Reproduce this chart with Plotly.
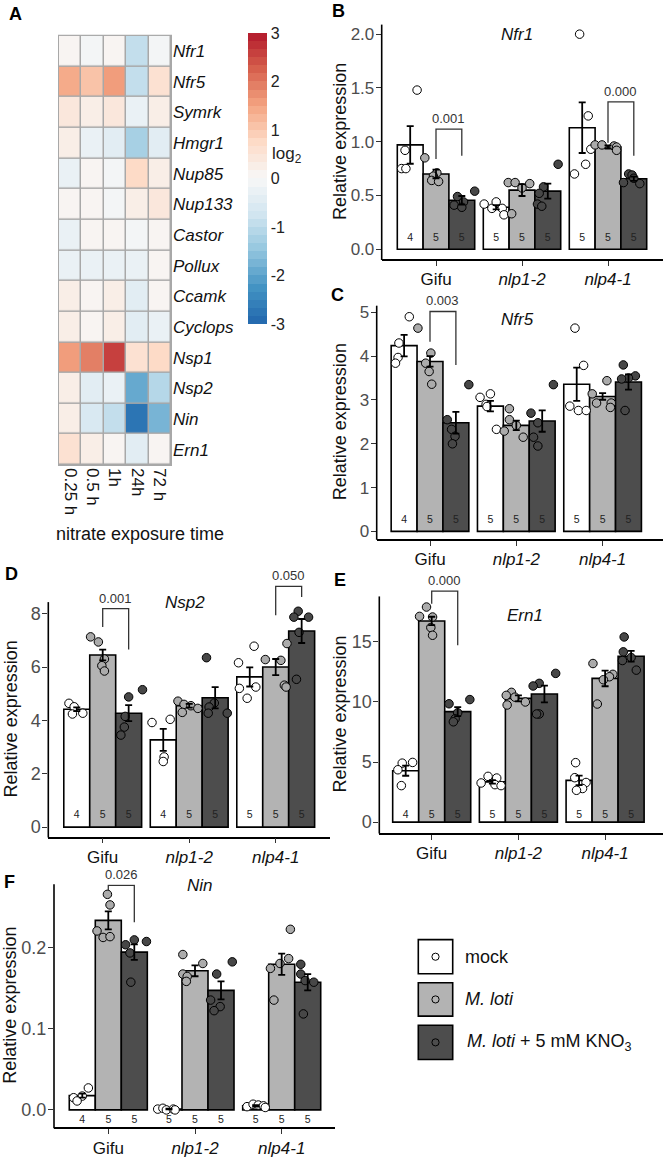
import plotly.graph_objects as go
from plotly.colors import sample_colorscale

W, H = 664, 1160
FONT = "Liberation Sans, Arial, Helvetica, sans-serif"

# ---------------- Panel A data ----------------
genes = ["Nfr1", "Nfr5", "Symrk", "Hmgr1", "Nup85", "Nup133", "Castor",
         "Pollux", "Ccamk", "Cyclops", "Nsp1", "Nsp2", "Nin", "Ern1"]
times = ["0.25 h", "0.5 h", "1h", "24h", "72 h"]
log2fc = [
    [0.0, -0.15, 0.0, -1.0, -0.15],     # Nfr1
    [1.35, 1.15, 1.55, -0.9, 0.55],     # Nfr5
    [0.45, 0.3, 0.45, -0.25, 0.2],      # Symrk
    [0.3, -0.3, -0.5, -1.2, -0.35],     # Hmgr1
    [-0.2, 0.0, -0.15, 0.7, 0.2],       # Nup85
    [0.05, 0.0, -0.15, 0.25, 0.4],      # Nup133
    [-0.2, 0.0, 0.0, -0.15, 0.0],       # Castor
    [-0.25, -0.25, -0.25, -0.2, 0.0],   # Pollux
    [0.2, 0.0, 0.2, -0.4, 0.0],         # Ccamk
    [0.2, 0.0, 0.2, -0.5, -0.3],        # Cyclops
    [1.6, 1.9, 2.6, 0.65, 0.75],        # Nsp1
    [0.2, -0.35, -0.2, -2.0, -1.1],     # Nsp2
    [0.2, -0.6, -1.0, -2.8, -1.7],      # Nin
    [0.6, 0.2, 0.0, -0.5, 0.0],         # Ern1
]
cbar_ticks = [3, 2, 1, 0, -1, -2, -3]

# ---------------- Bar panels data ----------------
genotypes = ["Gifu", "nlp1-2", "nlp4-1"]
genotype_ticktext = ["Gifu", "<i>nlp1-2</i>", "<i>nlp4-1</i>"]
treatments = ["mock", "M. loti", "M. loti + 5 mM KNO3"]

# Nfr1 (B)
nfr1_mean = [[0.97, 0.70, 0.455], [0.39, 0.55, 0.54], [1.13, 0.95, 0.655]]
nfr1_se = [[0.175, 0.04, 0.04], [0.02, 0.055, 0.07], [0.235, 0.015, 0.02]]
nfr1_pts = [
    [[1.48, 0.92, 0.75, 0.75], [0.85, 0.71, 0.68, 0.64, 0.63], [0.54, 0.49, 0.44, 0.41, 0.39]],
    [[0.42, 0.38, 0.44, 0.38, 0.32], [0.62, 0.62, 0.57, 0.61, 0.33], [0.79, 0.58, 0.52, 0.42, 0.40]],
    [[2.00, 1.24, 0.93, 0.79, 0.70], [0.97, 0.97, 0.96, 0.95, 0.92], [0.70, 0.69, 0.66, 0.62, 0.61]],
]
nfr1_n = [[4, 5, 5], [5, 5, 5], [5, 5, 5]]

# Nfr5 (C)
nfr5_mean = [[4.24, 3.88, 2.48], [2.86, 2.42, 2.52], [3.36, 3.08, 3.41]]
nfr5_se = [[0.245, 0.12, 0.25], [0.12, 0.11, 0.245], [0.38, 0.075, 0.175]]
nfr5_pts = [
    [[4.90, 4.30, 3.97, 3.84], [4.64, 4.07, 3.84, 3.65, 3.36], [3.35, 2.55, 2.33, 2.17, 2.00]],
    [[3.14, 3.06, 2.90, 2.85, 2.33], [2.80, 2.55, 2.42, 2.29, 2.15], [3.35, 2.70, 2.48, 2.15, 1.95]],
    [[4.64, 3.79, 2.86, 2.76, 2.76], [3.44, 3.14, 2.93, 2.93, 2.83], [3.80, 3.55, 3.50, 3.48, 2.76]],
]
nfr5_n = [[4, 5, 5], [5, 5, 5], [5, 5, 5]]

# Nsp2 (D)
nsp2_mean = [[4.42, 6.45, 4.27], [3.27, 4.55, 4.85], [5.63, 6.0, 7.35]]
nsp2_se = [[0.07, 0.2, 0.3], [0.41, 0.07, 0.4], [0.36, 0.3, 0.45]]
nsp2_pts = [
    [[4.64, 4.51, 4.24, 4.27], [7.13, 6.94, 6.30, 6.05, 5.85], [5.15, 4.88, 4.15, 3.75, 3.45]],
    [[3.92, 4.04, 2.63, 2.46], [4.72, 4.60, 4.55, 4.45, 4.30], [6.35, 4.65, 4.50, 4.27, 4.27]],
    [[6.78, 6.16, 5.20, 5.25, 4.83], [6.88, 6.28, 6.25, 5.32, 5.25], [8.09, 7.87, 7.87, 7.30, 5.54]],
]
nsp2_n = [[4, 5, 5], [4, 5, 5], [5, 5, 5]]

# Ern1 (E)
ern1_mean = [[4.28, 16.74, 9.2], [3.35, 10.3, 10.66], [3.48, 11.96, 13.81]]
ern1_se = [[0.42, 0.35, 0.37], [0.15, 0.25, 0.7], [0.4, 0.65, 0.45]]
ern1_pts = [
    [[4.97, 4.91, 4.36, 3.04], [17.9, 17.12, 17.07, 16.19, 15.55], [10.2, 9.85, 9.1, 8.6, 8.35]],
    [[3.81, 3.26, 3.67, 3.12, 3.04], [10.8, 10.55, 10.4, 10.0, 9.75], [12.38, 11.55, 11.33, 9.0, 9.0]],
    [[4.95, 3.7, 3.3, 2.8, 2.65], [13.2, 12.3, 12.1, 11.85, 9.83], [15.41, 14.17, 13.7, 13.45, 12.65]],
]
ern1_n = [[4, 5, 5], [5, 5, 5], [5, 5, 5]]

# Nin (F)
nin_mean = [[0.0175, 0.233, 0.194], [0.001, 0.171, 0.147], [0.005, 0.179, 0.157]]
nin_se = [[0.0025, 0.011, 0.0096], [0.0004, 0.0067, 0.011], [0.0008, 0.013, 0.01]]
nin_pts = [
    [[0.027, 0.017, 0.015, 0.011], [0.265, 0.252, 0.220, 0.212, 0.213], [0.207, 0.209, 0.203, 0.193, 0.157]],
    [[0.001, 0.002, 0.0, 0.001, 0.0], [0.191, 0.180, 0.167, 0.164, 0.158], [0.182, 0.167, 0.135, 0.127, 0.122]],
    [[0.004, 0.007, 0.006, 0.005, 0.003], [0.222, 0.186, 0.180, 0.174, 0.135], [0.179, 0.167, 0.159, 0.157, 0.118]],
]
nin_n = [[4, 5, 5], [5, 5, 5], [5, 5, 5]]

# p-value labels for brackets
p_nfr1 = ["0.001", "0.000"]
p_nfr5 = ["0.003"]
p_nsp2 = ["0.001", "0.050"]
p_ern1 = ["0.000"]
p_nin = ["0.026"]

# ---------------- styling (jitter offsets in category units) ----------------
jit_B = [
    [[0.08, -0.06, -0.10, -0.05], [-0.13, 0.01, -0.03, -0.05, 0.03], [0.15, -0.05, 0.02, -0.09, 0.0]],
    [[-0.14, -0.05, 0.0, 0.07, 0.09], [-0.16, -0.08, 0.0, 0.09, -0.12], [0.12, -0.05, -0.1, -0.12, -0.07]],
    [[-0.03, 0.07, 0.1, 0.04, -0.09], [-0.15, -0.07, 0.07, 0.1, 0.1], [-0.06, -0.02, 0.0, -0.12, 0.07]],
]
jit_C = [
    [[0.06, -0.06, -0.07, -0.10], [-0.14, 0.01, -0.05, -0.01, 0.02], [0.15, -0.1, -0.05, -0.01, -0.04]],
    [[0.0, -0.12, -0.05, -0.04, 0.07], [-0.08, -0.08, 0.0, -0.14, 0.08], [0.13, -0.13, -0.05, -0.1, -0.05]],
    [[-0.02, 0.08, -0.08, 0.02, 0.11], [0.05, -0.12, -0.07, 0.1, 0.09], [-0.06, 0.08, 0.0, -0.08, -0.04]],
]
jit_D = [
    [[-0.09, -0.03, -0.05, 0.07], [-0.14, -0.05, 0.02, -0.01, 0.02], [0.16, 0.0, -0.04, -0.05, -0.09]],
    [[-0.13, 0.08, 0.01, 0.0], [-0.13, -0.06, 0.02, 0.1, -0.08], [-0.1, -0.01, -0.07, 0.14, -0.08]],
    [[0.05, -0.13, -0.12, 0.07, -0.03], [0.13, -0.12, 0.06, 0.1, 0.12], [-0.04, -0.09, 0.08, -0.03, -0.06]],
]
jit_E = [
    [[0.08, -0.04, -0.09, -0.05], [-0.06, -0.14, 0.01, -0.01, 0.01], [0.14, -0.1, 0.0, -0.03, -0.05]],
    [[-0.05, -0.13, 0.05, 0.03, 0.1], [-0.08, -0.14, -0.04, 0.08, -0.13], [0.13, -0.06, -0.13, -0.06, -0.09]],
    [[-0.04, -0.05, 0.08, 0.04, -0.03], [-0.14, 0.09, 0.05, -0.02, -0.09], [-0.08, -0.09, 0.0, -0.1, 0.06]],
]
jit_F = [
    [[0.07, 0.0, -0.1, -0.06], [-0.01, 0.02, -0.13, -0.06, 0.02], [0.14, 0.0, -0.1, -0.05, -0.04]],
    [[-0.13, -0.07, -0.03, 0.05, 0.07], [-0.14, 0.09, -0.14, -0.09, -0.1], [0.13, -0.05, -0.12, -0.01, -0.08]],
    [[-0.1, -0.03, 0.03, 0.09, 0.11], [0.1, 0.08, -0.02, -0.13, -0.09], [-0.08, -0.08, -0.03, 0.07, -0.05]],
]

bar_fill = ["#FFFFFF", "#B3B3B3", "#4D4D4D"]
pt_fill = ["#FFFFFF", "#ABABAB", "#474747"]
BW = 0.3


def pxp(x, y):
    return x / W, 1 - y / H


fig = go.Figure()
shapes = []
annotations = []

# ---------------- Heatmap (A) ----------------
base = [[0, "#2166AC"], [0.125, "#4393C3"], [0.25, "#92C5DE"], [0.375, "#D1E5F0"],
        [0.5, "#F7F7F7"], [0.625, "#FDDBC7"], [0.75, "#F4A582"], [0.875, "#D6604D"], [1, "#B2182B"]]
nb = 36
cs = []
for i in range(nb):
    c = sample_colorscale(base, [(i + 0.5) / nb])[0]
    cs.append([i / nb, c])
    cs.append([(i + 1) / nb, c])

hx0, hx1, hy0, hy1 = 59, 171, 33, 464
fig.add_trace(go.Heatmap(
    z=log2fc, x=times, y=genes, zmin=-3, zmax=3, colorscale=cs,
    xgap=1.5, ygap=1.5, hoverinfo="skip", xaxis="x", yaxis="y",
    colorbar=dict(x=248 / W, xanchor="left", y=1 - 176.5 / H, yanchor="middle",
                  len=291, lenmode="pixels", thickness=19, thicknessmode="pixels",
                  xpad=0, ypad=0, outlinewidth=0, ticks="",
                  tickvals=cbar_ticks, ticktext=[str(v) for v in cbar_ticks],
                  tickfont=dict(size=16, color="#222", family=FONT)),
))
shapes.append(dict(type="rect", xref="paper", yref="paper",
                   x0=(hx0 - 1) / W, x1=(hx1 + 1) / W, y0=1 - (hy1 + 1) / H, y1=1 - (hy0 - 1) / H,
                   fillcolor="#A8A8A8", line=dict(width=0), layer="below"))
layout_axes = dict(
    xaxis=dict(domain=[hx0 / W, hx1 / W], anchor="y", tickangle=90, ticks="", showline=False,
               showgrid=False, zeroline=False, tickfont=dict(size=17, color="#111", family=FONT),
               ticklabelstandoff=2),
    yaxis=dict(domain=[1 - hy1 / H, 1 - hy0 / H], anchor="x", side="right", autorange="reversed",
               tickvals=genes, ticktext=[f"<i>{g}</i>" for g in genes], ticks="", showline=False,
               showgrid=False, zeroline=False, tickfont=dict(size=17, color="#111", family=FONT),
               ticklabelstandoff=1),
)
annotations.append(dict(x=270 / W, y=1 - 153 / H, xref="paper", yref="paper", xanchor="left",
                        yanchor="middle", showarrow=False, text="log<sub>2</sub>",
                        font=dict(size=17, color="#222", family=FONT)))
annotations.append(dict(x=140 / W, y=1 - 533 / H, xref="paper", yref="paper", xanchor="center",
                        yanchor="middle", showarrow=False, text="nitrate exposure time",
                        font=dict(size=18, color="#111", family=FONT)))

# ---------------- Bar panels ----------------
panels = [
    dict(letter="B", ax=2, title="Nfr1", mean=nfr1_mean, se=nfr1_se, pts=nfr1_pts, n=nfr1_n, jit=jit_B,
         xl=381.7, xr=663, t1=436, sp=86, y0=247.3, ppu=108, ybot=257.3, ytop=21.7, hi=2.093,
         yt=[0, 0.5, 1.0, 1.5, 2.0], ytt=["0.0", "0.5", "1.0", "1.5", "2.0"], yfs=17,
         nlab=10.7, title_px=(517, 32), ytitle_px=(340, 139.5), letter_px=(338, 8),
         br=[(0, 1.117, 0.84, 0.87, p_nfr1[0]), (2, 1.37, 0.99, 0.87, p_nfr1[1])]),
    dict(letter="C", ax=3, title="Nfr5", mean=nfr5_mean, se=nfr5_se, pts=nfr5_pts, n=nfr5_n, jit=jit_C,
         xl=376.7, xr=663, t1=430, sp=86.3, y0=530.7, ppu=44, ybot=538.3, ytop=304, hi=5.13,
         yt=[0, 1, 2, 3, 4, 5], ytt=["0", "1", "2", "3", "4", "5"], yfs=17,
         nlab=11.3, title_px=(517.7, 318.3), ytitle_px=(340, 421), letter_px=(337, 293),
         br=[(0, 5.02, 4.33, 3.80, p_nfr5[0])]),
    dict(letter="D", ax=4, title="Nsp2", mean=nsp2_mean, se=nsp2_se, pts=nsp2_pts, n=nsp2_n, jit=jit_D,
         xl=48.3, xr=330, t1=102.7, sp=86.5, y0=827.7, ppu=26.8, ybot=837.3, ytop=601.7, hi=9.15,
         yt=[0, 2, 4, 6, 8], ytt=["0", "2", "4", "6", "8"], yfs=18,
         nlab=11.7, title_px=(185, 601.7), ytitle_px=(11, 719.5), letter_px=(11, 573),
         br=[(0, 8.19, 7.5, 6.66, p_nsp2[0]), (2, 9.02, 7.94, 8.62, p_nsp2[1])]),
    dict(letter="E", ax=5, title="Ern1", mean=ern1_mean, se=ern1_se, pts=ern1_pts, n=ern1_n, jit=jit_E,
         xl=379.3, xr=663, t1=431.7, sp=86.7, y0=822.7, ppu=12.07, ybot=833.3, ytop=596, hi=19.35,
         yt=[0, 5, 10, 15], ytt=["0", "5", "10", "15"], yfs=18,
         nlab=7, title_px=(525, 615), ytitle_px=(340, 714.7), letter_px=(340, 579),
         br=[(0, 19.22, 18.18, 14.72, p_ern1[0])]),
    dict(letter="F", ax=6, title="Nin", mean=nin_mean, se=nin_se, pts=nin_pts, n=nin_n, jit=jit_F,
         xl=54, xr=335, t1=108.3, sp=86.7, y0=1111.7, ppu=817, ybot=1129.3, ytop=885, hi=0.2775,
         yt=[0, 0.1, 0.2], ytt=["0.0", "0.1", "0.2"], yfs=18,
         nlab=-11, title_px=(200, 886.7), ytitle_px=(10, 1007), letter_px=(9, 883),
         br=[(0, 0.276, 0.269, 0.2306, p_nin[0])]),
]

for p in panels:
    k = p["ax"]
    xa, ya = f"x{k}", f"y{k}"
    lo = -(p["ybot"] - p["y0"]) / p["ppu"]
    xr0 = 1 - (p["t1"] - p["xl"]) / p["sp"]
    xr1 = 1 + (p["xr"] - p["t1"]) / p["sp"]
    ytop_dom = p["y0"] - p["hi"] * p["ppu"]
    layout_axes[f"xaxis{k}"] = dict(
        domain=[p["xl"] / W, p["xr"] / W], anchor=ya, range=[xr0, xr1],
        tickvals=[1, 2, 3], ticktext=genotype_ticktext, showline=True, linecolor="black",
        linewidth=1.6, ticks="outside", ticklen=5, tickwidth=1.2, tickcolor="#333",
        showgrid=False, zeroline=False, ticklabelstandoff=-1,
        tickfont=dict(size=17, color="#111", family=FONT))
    layout_axes[f"yaxis{k}"] = dict(
        domain=[1 - p["ybot"] / H, 1 - ytop_dom / H], anchor=xa, range=[lo, p["hi"]],
        tickvals=p["yt"], ticktext=p["ytt"], showline=False, ticks="outside", ticklen=5,
        tickwidth=1.2, tickcolor="#333", showgrid=False, zeroline=False, ticklabelstandoff=-2,
        tickfont=dict(size=p["yfs"], color="#4D4D4D", family=FONT))
    # y axis line
    shapes.append(dict(type="line", xref="paper", yref="paper",
                       x0=p["xl"] / W, x1=p["xl"] / W, y0=1 - (p["ybot"] + 0.8) / H, y1=1 - p["ytop"] / H,
                       line=dict(color="black", width=1.6)))

    bx, by, bc, bse, nx, ny, nt = [], [], [], [], [], [], []
    px_, py_, pc_ = [], [], []
    for g in range(3):
        for t in range(3):
            xc = g + 1 + (t - 1) * BW
            bx.append(xc)
            by.append(p["mean"][g][t])
            bc.append(bar_fill[t])
            bse.append(p["se"][g][t])
            nx.append(xc)
            ny.append(p["nlab"] / p["ppu"])
            nt.append(str(p["n"][g][t]))
            for v, j in zip(p["pts"][g][t], p["jit"][g][t]):
                px_.append(xc + j)
                py_.append(v)
                pc_.append(pt_fill[t])
    fig.add_trace(go.Bar(x=bx, y=by, width=BW, marker=dict(color=bc, line=dict(color="black", width=1.6)),
                         xaxis=xa, yaxis=ya, hoverinfo="skip"))
    fig.add_trace(go.Scatter(x=px_, y=py_, mode="markers", xaxis=xa, yaxis=ya, cliponaxis=False,
                             marker=dict(size=8.5, color=pc_, line=dict(color="black", width=1)),
                             hoverinfo="skip"))
    fig.add_trace(go.Scatter(x=bx, y=by, mode="markers", xaxis=xa, yaxis=ya, hoverinfo="skip",
                             marker=dict(size=1, color="rgba(0,0,0,0)"),
                             error_y=dict(type="data", array=bse, color="black", thickness=1.8, width=3.5)))
    fig.add_trace(go.Scatter(x=nx, y=ny, mode="text", text=nt, xaxis=xa, yaxis=ya, cliponaxis=False,
                             textfont=dict(size=10.5, color="#222", family=FONT), hoverinfo="skip"))
    # significance brackets
    for (g, top, yl, yr, lab) in p["br"]:
        x_a = g + 1
        x_b = g + 1 + BW
        shapes.append(dict(type="path", xref=xa, yref=ya,
                           path=f"M {x_a},{yl} L {x_a},{top} L {x_b},{top} L {x_b},{yr}",
                           line=dict(color="#333", width=1.3)))
        annotations.append(dict(x=(x_a + x_b) / 2, y=top, xref=xa, yref=ya, xanchor="center",
                                yanchor="bottom", yshift=1, showarrow=False, text=lab,
                                font=dict(size=13, color="#333", family=FONT)))
    # title, y title, panel letter
    tx, ty = pxp(*p["title_px"])
    annotations.append(dict(x=tx, y=ty, xref="paper", yref="paper", xanchor="center", yanchor="middle",
                            showarrow=False, text=f"<i>{p['title']}</i>",
                            font=dict(size=17, color="#111", family=FONT)))
    tx, ty = pxp(*p["ytitle_px"])
    annotations.append(dict(x=tx, y=ty, xref="paper", yref="paper", xanchor="center", yanchor="middle",
                            showarrow=False, text="Relative expression", textangle=-90,
                            font=dict(size=18, color="#111", family=FONT)))
    tx, ty = pxp(*p["letter_px"])
    annotations.append(dict(x=tx, y=ty, xref="paper", yref="paper", xanchor="center", yanchor="middle",
                            showarrow=False, text=f"<b>{p['letter']}</b>",
                            font=dict(size=18, color="#000", family=FONT)))

# panel A letter
tx, ty = pxp(15, 11)
annotations.append(dict(x=tx, y=ty, xref="paper", yref="paper", xanchor="center", yanchor="middle",
                        showarrow=False, text="<b>A</b>", font=dict(size=18, color="#000", family=FONT)))

# ---------------- Legend ----------------
leg_y = [(940.7, 975), (984, 1017.5), (1026.7, 1061)]
leg_text = ["mock", "<i>M. loti</i>", "<i>M. loti</i> + 5 mM KNO<sub>3</sub>"]
for i, ((y0, y1), lab) in enumerate(zip(leg_y, leg_text)):
    shapes.append(dict(type="rect", xref="paper", yref="paper", x0=418.3 / W, x1=452.7 / W,
                       y0=1 - y1 / H, y1=1 - y0 / H, fillcolor=bar_fill[i],
                       line=dict(color="black", width=1.6)))
    cy = (y0 + y1) / 2
    shapes.append(dict(type="circle", xref="paper", yref="paper", x0=(435.5 - 3.6) / W, x1=(435.5 + 3.6) / W,
                       y0=1 - (cy + 3.6) / H, y1=1 - (cy - 3.6) / H, fillcolor=bar_fill[i],
                       line=dict(color="black", width=1)))
    annotations.append(dict(x=(462.7 if i < 2 else 465) / W, y=1 - cy / H, xref="paper", yref="paper",
                            xanchor="left", yanchor="middle", showarrow=False, text=lab,
                            font=dict(size=18, color="#111", family=FONT)))

fig.update_layout(
    width=W, height=H, margin=dict(l=0, r=0, t=0, b=0),
    paper_bgcolor="white", plot_bgcolor="rgba(0,0,0,0)",
    showlegend=False, barmode="overlay",
    font=dict(family=FONT, color="#111"),
    shapes=shapes, annotations=annotations,
    **layout_axes,
)

fig.write_html("out.html", config={"displayModeBar": False},
               post_script="document.body.style.margin='0';")
